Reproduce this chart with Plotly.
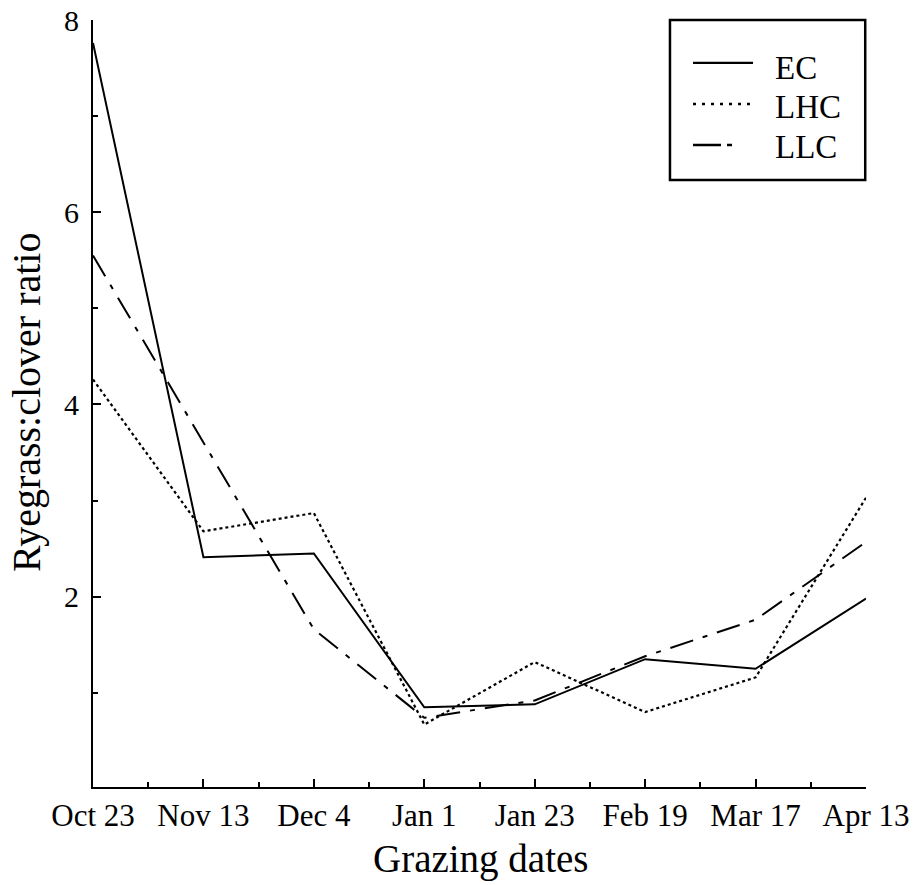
import plotly.graph_objects as go

dates = ["Oct 23", "Nov 13", "Dec 4", "Jan 1", "Jan 23", "Feb 19", "Mar 17", "Apr 13"]
ec = [7.76, 2.41, 2.45, 0.85, 0.88, 1.35, 1.25, 1.98]
lhc = [4.26, 2.68, 2.87, 0.67, 1.32, 0.80, 1.16, 3.03]
llc = [5.55, 3.60, 1.66, 0.74, 0.92, 1.38, 1.76, 2.57]

series_names = ["EC", "LHC", "LLC"]
series_dash = ["solid", "dot", "24px,10px,5px,10px"]
legend_dash = ["solid", "3px,6px", "28px,6px,5px"]

xpos = list(range(len(dates)))
font = "Liberation Serif, Times New Roman, serif"

fig = go.Figure()
for name, vals, dash in zip(series_names, [ec, lhc, llc], series_dash):
    fig.add_trace(go.Scatter(x=xpos, y=vals, name=name, mode="lines",
                             line=dict(color="black", width=2.2 if dash == "dot" else 2, dash=dash)))

# custom legend box (paper coordinates relative to plot area)
fig.add_shape(type="rect", xref="paper", yref="paper",
              x0=0.7464, x1=0.999, y0=0.7914, y1=1.0,
              line=dict(color="black", width=2.5), fillcolor="white", layer="above")
legend_y = [0.9440, 0.8905, 0.8370]
text_y = [0.938, 0.886, 0.834]
for name, dash, ly, ty in zip(series_names, legend_dash, legend_y, text_y):
    fig.add_shape(type="line", xref="paper", yref="paper",
                  x0=0.7762, x1=0.8538, y0=ly, y1=ly,
                  line=dict(color="black", width=2.5 if dash != "solid" else 2.2, dash=dash), layer="above")
    fig.add_annotation(xref="paper", yref="paper", x=0.8797, y=ty,
                       text=name, showarrow=False, xanchor="left", yanchor="middle",
                       font=dict(size=33, family=font, color="black"))

# axis titles
fig.add_annotation(xref="paper", yref="paper", x=0.502, y=-0.094,
                   text="Grazing dates", showarrow=False, xanchor="center", yanchor="middle",
                   font=dict(size=39, family=font, color="black"))
fig.add_annotation(xref="paper", yref="paper", x=-0.0854, y=0.502,
                   text="Ryegrass:clover ratio", showarrow=False, textangle=-90,
                   xanchor="center", yanchor="middle",
                   font=dict(size=40, family=font, color="black"))

fig.update_layout(
    width=921, height=885,
    margin=dict(l=93, r=55, t=20, b=98),
    plot_bgcolor="white", paper_bgcolor="white",
    font=dict(family=font, color="black", size=30),
    showlegend=False,
    xaxis=dict(range=[0, 7], tickvals=xpos, ticktext=dates, automargin=False,
               showline=True, linecolor="black", linewidth=2,
               ticks="inside", ticklen=8, tickwidth=1.5, tickcolor="black",
               minor=dict(dtick=0.5, tick0=0, ticks="inside", ticklen=5, tickcolor="black", tickwidth=1.5),
               showgrid=False, zeroline=False, ticklabelstandoff=0,
               tickfont=dict(size=31)),
    yaxis=dict(range=[0.02, 8], tickvals=[2, 4, 6, 8], automargin=False,
               showline=True, linecolor="black", linewidth=2,
               ticks="inside", ticklen=8, tickwidth=1.5, tickcolor="black",
               minor=dict(tickvals=[1, 3, 5, 7], ticks="inside", ticklen=5, tickcolor="black", tickwidth=1.5),
               showgrid=False, zeroline=False, ticklabelstandoff=6,
               tickfont=dict(size=30)),
)

fig.write_html("out.html")
